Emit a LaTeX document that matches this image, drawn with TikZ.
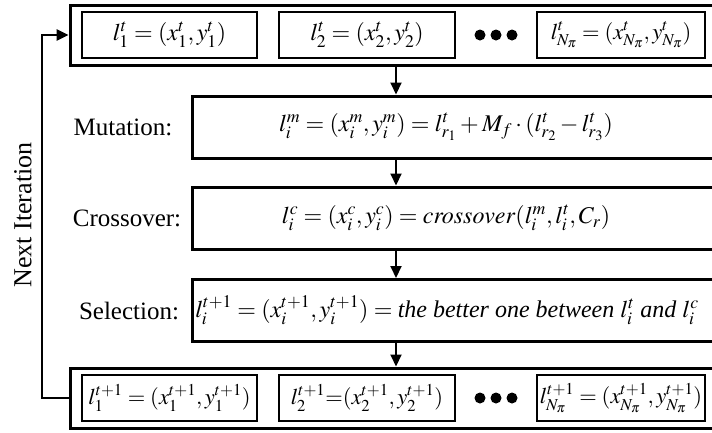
\documentclass[tikz,border=0pt]{standalone}
\usepackage{mathptmx}
\usepackage{fontspec}
\setmainfont{Liberation Serif}
\usetikzlibrary{arrows.meta}
\tikzset{
  outerbox/.style={draw, line width=3pt, minimum width=660pt, minimum height=60pt, inner sep=0pt},
  cellbox/.style={draw, line width=2pt, minimum height=46pt, inner sep=0pt},
  stagebox/.style={draw, line width=3pt, minimum width=538pt, minimum height=62pt, inner sep=0pt},
  txt/.style={inner sep=0pt, font=\fontsize{24}{28}\selectfont},
  smalltxt/.style={inner sep=0pt, font=\fontsize{22.5}{27}\selectfont},
  lbl/.style={inner sep=0pt, font=\fontsize{25}{30}\selectfont},
  arr/.style={line width=2pt, -{Triangle[length=12pt,width=11pt]}},
  dotmark/.style={fill=black}
}
\begin{document}
\begin{tikzpicture}[x=1pt,y=-1pt]
\useasboundingbox (0,0) rectangle (712,432);
\begin{scope}
\clip (0,0) rectangle (712,432);
% top population
\node[outerbox] (top) at (400,35) {};
\node[cellbox, minimum width=175pt, txt] (t1) at (169.5,35) {$l_1^t=(x_1^t,y_1^t)$};
\node[cellbox, minimum width=176pt, txt] (t2) at (367,35) {$l_2^t=(x_2^t,y_2^t)$};
\node[cellbox, minimum width=168pt, smalltxt] (t3) at (621,35) {$l_{N_\pi}^t=(x_{N_\pi}^t,y_{N_\pi}^t)$};
\fill[dotmark] (480,35) circle (5.5) (496,35) circle (5.5) (512,35) circle (5.5);
% stages
\node[stagebox] (mut) at (461,127) {};
\node[txt] (mutf) at (446,127) {$l_i^m=(x_i^m,y_i^m)=l_{r_1}^t+M_f\cdot(l_{r_2}^t-l_{r_3}^t)$};
\node[lbl] (mutl) at (123,127) {Mutation:};
\node[stagebox] (cro) at (461,218) {};
\node[txt] (crof) at (446,218) {$l_i^c=(x_i^c,y_i^c)=\mathit{crossover}(l_i^m,l_i^t,C_r)$};
\node[lbl] (crol) at (127,218) {Crossover:};
\node[stagebox] (sel) at (461,310.5) {};
\node[txt] (self) at (447,310.5) {$l_i^{t+1}=(x_i^{t+1},y_i^{t+1})=\textit{the better one between }l_i^t\textit{ and }l_i^c$};
\node[lbl] (sell) at (129,310.5) {Selection:};
% bottom population
\node[outerbox] (bot) at (400,398) {};
\node[cellbox, minimum width=175pt, smalltxt] (b1) at (169.5,398) {$l_1^{t+1}=(x_1^{t+1},y_1^{t+1})$};
\node[cellbox, minimum width=176pt, smalltxt] (b2) at (367,398) {$l_2^{t+1}{=}(x_2^{t+1},y_2^{t+1})$};
\node[cellbox, minimum width=168pt, smalltxt] (b3) at (621,398) {$l_{N_\pi}^{t+1}=(x_{N_\pi}^{t+1},y_{N_\pi}^{t+1})$};
\fill[dotmark] (480,398) circle (5.5) (496,398) circle (5.5) (512,398) circle (5.5);
% arrows
\coordinate (ax) at (396,0);
\draw[arr] (top.south -| ax) -- (mut.north -| ax);
\draw[arr] (mut.south -| ax) -- (cro.north -| ax);
\draw[arr] (cro.south -| ax) -- (sel.north -| ax);
\draw[arr] (sel.south -| ax) -- (bot.north -| ax);
% feedback
\coordinate (fb) at (42,0);
\draw[arr, line width=2.5pt] (bot.west) -- (bot.west -| fb) |- (top.west);
\node[lbl, rotate=90, font=\fontsize{26}{30}\selectfont] (nxt) at (23,215) {Next Iteration};
\end{scope}
\end{tikzpicture}
\end{document}
